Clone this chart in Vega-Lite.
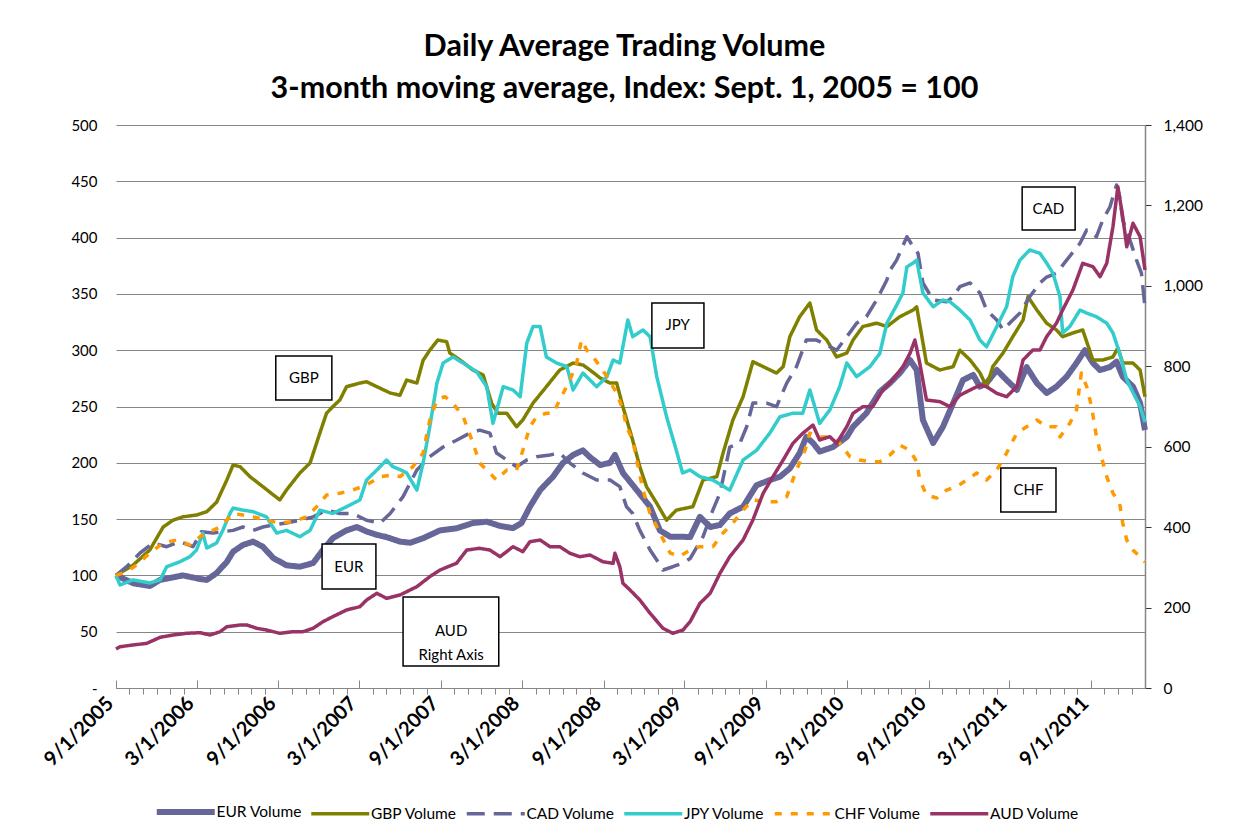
{
"$schema": "https://vega.github.io/schema/vega-lite/v6.json",
"width": 1029, "height": 563,
"autosize": {"type": "none"},
"padding": {"left": 116, "top": 125, "right": 93, "bottom": 151},
"background": "white",
"title": {"text": ["Daily Average Trading Volume", "3-month moving average, Index: Sept. 1, 2005 = 100"], "font": "Lato", "fontSize": 30.5, "fontWeight": "bold", "color": "#000", "lineHeight": 42, "offset": 14, "anchor": "middle", "dx": -6},
"config": {"view": {"stroke": null}},
"datasets": {
"left": [
{"s":"EUR","d":"2005-09-01","v":100},{"s":"EUR","d":"2005-10-10","v":93},{"s":"EUR","d":"2005-11-16","v":90.6},{"s":"EUR","d":"2005-12-09","v":96},{"s":"EUR","d":"2005-12-31","v":97.7},{"s":"EUR","d":"2006-01-29","v":100},{"s":"EUR","d":"2006-03-09","v":96.8},{"s":"EUR","d":"2006-03-24","v":96},{"s":"EUR","d":"2006-04-15","v":102},{"s":"EUR","d":"2006-05-08","v":112},{"s":"EUR","d":"2006-05-22","v":121},{"s":"EUR","d":"2006-06-13","v":127},{"s":"EUR","d":"2006-07-06","v":130},{"s":"EUR","d":"2006-07-28","v":125.5},{"s":"EUR","d":"2006-08-20","v":115.5},{"s":"EUR","d":"2006-09-19","v":109},{"s":"EUR","d":"2006-10-19","v":107.7},{"s":"EUR","d":"2006-11-18","v":111},{"s":"EUR","d":"2006-12-10","v":122.6},{"s":"EUR","d":"2007-01-01","v":133},{"s":"EUR","d":"2007-02-01","v":140},{"s":"EUR","d":"2007-02-24","v":143},{"s":"EUR","d":"2007-03-18","v":139},{"s":"EUR","d":"2007-04-10","v":136},{"s":"EUR","d":"2007-05-02","v":134},{"s":"EUR","d":"2007-06-01","v":130},{"s":"EUR","d":"2007-06-24","v":129},{"s":"EUR","d":"2007-07-23","v":133},{"s":"EUR","d":"2007-08-30","v":140},{"s":"EUR","d":"2007-10-06","v":141.8},{"s":"EUR","d":"2007-11-12","v":146.5},{"s":"EUR","d":"2007-12-13","v":147.7},{"s":"EUR","d":"2008-01-12","v":143.9},{"s":"EUR","d":"2008-02-10","v":142},{"s":"EUR","d":"2008-02-29","v":146.5},{"s":"EUR","d":"2008-03-19","v":161},{"s":"EUR","d":"2008-04-11","v":175.8},{"s":"EUR","d":"2008-05-10","v":187.7},{"s":"EUR","d":"2008-06-01","v":199.8},{"s":"EUR","d":"2008-06-24","v":207},{"s":"EUR","d":"2008-07-16","v":211},{"s":"EUR","d":"2008-08-01","v":205},{"s":"EUR","d":"2008-08-24","v":198},{"s":"EUR","d":"2008-09-15","v":200},{"s":"EUR","d":"2008-09-26","v":207},{"s":"EUR","d":"2008-10-14","v":191},{"s":"EUR","d":"2008-11-14","v":175.8},{"s":"EUR","d":"2008-12-14","v":161},{"s":"EUR","d":"2009-01-05","v":140},{"s":"EUR","d":"2009-01-28","v":134.4},{"s":"EUR","d":"2009-02-19","v":134.4},{"s":"EUR","d":"2009-03-14","v":134},{"s":"EUR","d":"2009-04-05","v":152},{"s":"EUR","d":"2009-04-28","v":143},{"s":"EUR","d":"2009-05-20","v":144.8},{"s":"EUR","d":"2009-06-11","v":155},{"s":"EUR","d":"2009-07-11","v":161},{"s":"EUR","d":"2009-08-10","v":180},{"s":"EUR","d":"2009-09-09","v":184.7},{"s":"EUR","d":"2009-10-02","v":187.7},{"s":"EUR","d":"2009-10-24","v":195},{"s":"EUR","d":"2009-11-15","v":208.6},{"s":"EUR","d":"2009-11-30","v":223},{"s":"EUR","d":"2009-12-15","v":217.6},{"s":"EUR","d":"2009-12-30","v":210},{"s":"EUR","d":"2010-01-29","v":214},{"s":"EUR","d":"2010-03-01","v":223},{"s":"EUR","d":"2010-03-15","v":232},{"s":"EUR","d":"2010-04-14","v":244},{"s":"EUR","d":"2010-05-14","v":263},{"s":"EUR","d":"2010-06-06","v":270.8},{"s":"EUR","d":"2010-06-28","v":279.7},{"s":"EUR","d":"2010-07-21","v":291.3},{"s":"EUR","d":"2010-08-05","v":282.4},{"s":"EUR","d":"2010-08-19","v":238},{"s":"EUR","d":"2010-09-11","v":217.6},{"s":"EUR","d":"2010-10-03","v":232},{"s":"EUR","d":"2010-10-26","v":253},{"s":"EUR","d":"2010-11-17","v":273.5},{"s":"EUR","d":"2010-12-10","v":278},{"s":"EUR","d":"2010-12-25","v":267.6},{"s":"EUR","d":"2011-01-09","v":270.8},{"s":"EUR","d":"2011-02-01","v":282.4},{"s":"EUR","d":"2011-02-23","v":273.5},{"s":"EUR","d":"2011-03-18","v":264.7},{"s":"EUR","d":"2011-04-09","v":285},{"s":"EUR","d":"2011-05-02","v":270.8},{"s":"EUR","d":"2011-05-24","v":262},{"s":"EUR","d":"2011-06-15","v":267.6},{"s":"EUR","d":"2011-07-08","v":276.5},{"s":"EUR","d":"2011-07-30","v":288.6},{"s":"EUR","d":"2011-08-18","v":300},{"s":"EUR","d":"2011-09-05","v":288.6},{"s":"EUR","d":"2011-09-21","v":282.4},{"s":"EUR","d":"2011-10-13","v":285},{"s":"EUR","d":"2011-10-28","v":289.8},{"s":"EUR","d":"2011-11-11","v":276.5},{"s":"EUR","d":"2011-12-04","v":267.6},{"s":"EUR","d":"2011-12-20","v":253},{"s":"EUR","d":"2011-12-31","v":229},
{"s":"GBP","d":"2005-09-01","v":100},{"s":"GBP","d":"2005-10-09","v":109},{"s":"GBP","d":"2005-11-16","v":122.6},{"s":"GBP","d":"2005-12-16","v":143},{"s":"GBP","d":"2006-01-07","v":149},{"s":"GBP","d":"2006-01-29","v":152},{"s":"GBP","d":"2006-03-01","v":153.6},{"s":"GBP","d":"2006-03-24","v":156.6},{"s":"GBP","d":"2006-04-15","v":165},{"s":"GBP","d":"2006-05-08","v":184.7},{"s":"GBP","d":"2006-05-22","v":198},{"s":"GBP","d":"2006-06-07","v":196.5},{"s":"GBP","d":"2006-06-29","v":187.7},{"s":"GBP","d":"2006-07-28","v":178.8},{"s":"GBP","d":"2006-09-04","v":167},{"s":"GBP","d":"2006-09-19","v":175.8},{"s":"GBP","d":"2006-10-19","v":190.9},{"s":"GBP","d":"2006-11-11","v":199.8},{"s":"GBP","d":"2006-12-03","v":226.4},{"s":"GBP","d":"2006-12-18","v":244},{"s":"GBP","d":"2007-01-01","v":249.8},{"s":"GBP","d":"2007-01-17","v":255.8},{"s":"GBP","d":"2007-02-01","v":267.6},{"s":"GBP","d":"2007-03-03","v":270.8},{"s":"GBP","d":"2007-03-18","v":272},{"s":"GBP","d":"2007-04-10","v":267.6},{"s":"GBP","d":"2007-05-10","v":262},{"s":"GBP","d":"2007-06-01","v":260},{"s":"GBP","d":"2007-06-16","v":273.5},{"s":"GBP","d":"2007-07-09","v":270.8},{"s":"GBP","d":"2007-07-23","v":291},{"s":"GBP","d":"2007-08-07","v":300},{"s":"GBP","d":"2007-08-25","v":309},{"s":"GBP","d":"2007-09-14","v":307.5},{"s":"GBP","d":"2007-09-21","v":297.5},{"s":"GBP","d":"2007-10-14","v":291.3},{"s":"GBP","d":"2007-11-12","v":282.4},{"s":"GBP","d":"2007-12-05","v":278},{"s":"GBP","d":"2007-12-24","v":253},{"s":"GBP","d":"2008-01-07","v":244},{"s":"GBP","d":"2008-01-27","v":244},{"s":"GBP","d":"2008-02-18","v":232},{"s":"GBP","d":"2008-03-03","v":238},{"s":"GBP","d":"2008-03-26","v":253},{"s":"GBP","d":"2008-04-25","v":267.6},{"s":"GBP","d":"2008-05-25","v":282.4},{"s":"GBP","d":"2008-06-24","v":288.6},{"s":"GBP","d":"2008-07-16","v":286.9},{"s":"GBP","d":"2008-08-01","v":282.4},{"s":"GBP","d":"2008-08-24","v":275.3},{"s":"GBP","d":"2008-09-15","v":270.8},{"s":"GBP","d":"2008-09-30","v":270.8},{"s":"GBP","d":"2008-10-14","v":249.8},{"s":"GBP","d":"2008-11-05","v":220},{"s":"GBP","d":"2008-11-21","v":196.5},{"s":"GBP","d":"2008-12-06","v":178.8},{"s":"GBP","d":"2008-12-29","v":164},{"s":"GBP","d":"2009-01-20","v":149},{"s":"GBP","d":"2009-02-11","v":158},{"s":"GBP","d":"2009-03-20","v":161},{"s":"GBP","d":"2009-04-12","v":184.7},{"s":"GBP","d":"2009-05-13","v":187.7},{"s":"GBP","d":"2009-05-27","v":208.7},{"s":"GBP","d":"2009-06-18","v":238},{"s":"GBP","d":"2009-07-11","v":258.7},{"s":"GBP","d":"2009-08-02","v":289.8},{"s":"GBP","d":"2009-08-25","v":285.4},{"s":"GBP","d":"2009-09-24","v":279.7},{"s":"GBP","d":"2009-10-09","v":285.4},{"s":"GBP","d":"2009-10-24","v":312},{"s":"GBP","d":"2009-11-15","v":329.7},{"s":"GBP","d":"2009-12-08","v":341.9},{"s":"GBP","d":"2009-12-23","v":318},{"s":"GBP","d":"2010-01-15","v":309},{"s":"GBP","d":"2010-02-06","v":294},{"s":"GBP","d":"2010-03-01","v":297.5},{"s":"GBP","d":"2010-03-15","v":309},{"s":"GBP","d":"2010-04-06","v":321},{"s":"GBP","d":"2010-05-07","v":324},{"s":"GBP","d":"2010-05-30","v":321},{"s":"GBP","d":"2010-06-28","v":329.7},{"s":"GBP","d":"2010-07-28","v":335.7},{"s":"GBP","d":"2010-08-05","v":338.6},{"s":"GBP","d":"2010-08-27","v":288.6},{"s":"GBP","d":"2010-09-26","v":282.4},{"s":"GBP","d":"2010-10-26","v":285.4},{"s":"GBP","d":"2010-11-10","v":300},{"s":"GBP","d":"2010-12-03","v":291.3},{"s":"GBP","d":"2010-12-25","v":280},{"s":"GBP","d":"2011-01-09","v":267.6},{"s":"GBP","d":"2011-01-23","v":285.4},{"s":"GBP","d":"2011-02-15","v":297.5},{"s":"GBP","d":"2011-03-09","v":312},{"s":"GBP","d":"2011-04-01","v":326.8},{"s":"GBP","d":"2011-04-12","v":347.5},{"s":"GBP","d":"2011-05-02","v":335.7},{"s":"GBP","d":"2011-05-24","v":324},{"s":"GBP","d":"2011-06-15","v":318},{"s":"GBP","d":"2011-06-29","v":312},{"s":"GBP","d":"2011-07-22","v":315.3},{"s":"GBP","d":"2011-08-13","v":318},{"s":"GBP","d":"2011-09-05","v":291.3},{"s":"GBP","d":"2011-09-27","v":291.3},{"s":"GBP","d":"2011-10-20","v":294},{"s":"GBP","d":"2011-10-31","v":302},{"s":"GBP","d":"2011-11-11","v":288.6},{"s":"GBP","d":"2011-12-04","v":288.6},{"s":"GBP","d":"2011-12-20","v":282.4},{"s":"GBP","d":"2011-12-31","v":258.7},
{"s":"CAD","d":"2005-09-01","v":100},{"s":"CAD","d":"2005-09-25","v":107.7},{"s":"CAD","d":"2005-10-25","v":119.9},{"s":"CAD","d":"2005-11-23","v":128.8},{"s":"CAD","d":"2005-12-24","v":125.5},{"s":"CAD","d":"2006-01-23","v":130},{"s":"CAD","d":"2006-02-21","v":125.5},{"s":"CAD","d":"2006-03-12","v":138.8},{"s":"CAD","d":"2006-04-07","v":137.6},{"s":"CAD","d":"2006-04-29","v":138.8},{"s":"CAD","d":"2006-05-22","v":140},{"s":"CAD","d":"2006-06-13","v":143},{"s":"CAD","d":"2006-07-06","v":140},{"s":"CAD","d":"2006-07-28","v":143},{"s":"CAD","d":"2006-08-20","v":144.8},{"s":"CAD","d":"2006-09-19","v":146.5},{"s":"CAD","d":"2006-10-19","v":149},{"s":"CAD","d":"2006-11-18","v":152},{"s":"CAD","d":"2006-12-18","v":158},{"s":"CAD","d":"2007-01-17","v":155},{"s":"CAD","d":"2007-02-15","v":155},{"s":"CAD","d":"2007-03-18","v":149},{"s":"CAD","d":"2007-04-17","v":146.5},{"s":"CAD","d":"2007-05-10","v":155},{"s":"CAD","d":"2007-06-08","v":170},{"s":"CAD","d":"2007-07-09","v":193.6},{"s":"CAD","d":"2007-08-07","v":205.4},{"s":"CAD","d":"2007-09-06","v":214},{"s":"CAD","d":"2007-10-06","v":220},{"s":"CAD","d":"2007-11-05","v":226.4},{"s":"CAD","d":"2007-11-27","v":229},{"s":"CAD","d":"2007-12-20","v":226.4},{"s":"CAD","d":"2008-01-04","v":208.7},{"s":"CAD","d":"2008-01-27","v":202.5},{"s":"CAD","d":"2008-02-18","v":196.5},{"s":"CAD","d":"2008-03-12","v":202.5},{"s":"CAD","d":"2008-04-03","v":205.4},{"s":"CAD","d":"2008-05-03","v":207},{"s":"CAD","d":"2008-05-25","v":208.7},{"s":"CAD","d":"2008-06-17","v":199.8},{"s":"CAD","d":"2008-07-16","v":190.9},{"s":"CAD","d":"2008-08-16","v":184.7},{"s":"CAD","d":"2008-09-15","v":184.7},{"s":"CAD","d":"2008-10-07","v":178.8},{"s":"CAD","d":"2008-10-22","v":161},{"s":"CAD","d":"2008-11-05","v":155},{"s":"CAD","d":"2008-11-21","v":140},{"s":"CAD","d":"2008-12-14","v":122.6},{"s":"CAD","d":"2008-12-29","v":113.7},{"s":"CAD","d":"2009-01-12","v":104.8},{"s":"CAD","d":"2009-02-03","v":107.7},{"s":"CAD","d":"2009-02-26","v":111},{"s":"CAD","d":"2009-03-14","v":115},{"s":"CAD","d":"2009-04-12","v":134.4},{"s":"CAD","d":"2009-05-04","v":158},{"s":"CAD","d":"2009-05-20","v":173},{"s":"CAD","d":"2009-06-11","v":214},{"s":"CAD","d":"2009-07-04","v":217.6},{"s":"CAD","d":"2009-07-19","v":232},{"s":"CAD","d":"2009-08-02","v":253},{"s":"CAD","d":"2009-09-02","v":253},{"s":"CAD","d":"2009-09-24","v":249.8},{"s":"CAD","d":"2009-10-17","v":270.8},{"s":"CAD","d":"2009-11-08","v":285.4},{"s":"CAD","d":"2009-11-30","v":309},{"s":"CAD","d":"2009-12-23","v":309},{"s":"CAD","d":"2010-01-15","v":304.6},{"s":"CAD","d":"2010-02-06","v":300},{"s":"CAD","d":"2010-03-01","v":312},{"s":"CAD","d":"2010-03-23","v":324},{"s":"CAD","d":"2010-04-14","v":329.7},{"s":"CAD","d":"2010-05-07","v":344.6},{"s":"CAD","d":"2010-05-30","v":362.3},{"s":"CAD","d":"2010-06-06","v":371},{"s":"CAD","d":"2010-06-21","v":380},{"s":"CAD","d":"2010-07-14","v":400.8},{"s":"CAD","d":"2010-07-28","v":392},{"s":"CAD","d":"2010-08-08","v":386},{"s":"CAD","d":"2010-08-19","v":359.7},{"s":"CAD","d":"2010-09-11","v":344.6},{"s":"CAD","d":"2010-10-11","v":343},{"s":"CAD","d":"2010-10-26","v":347.5},{"s":"CAD","d":"2010-11-10","v":356.4},{"s":"CAD","d":"2010-12-03","v":359.7},{"s":"CAD","d":"2010-12-25","v":350.8},{"s":"CAD","d":"2011-01-09","v":335.7},{"s":"CAD","d":"2011-02-01","v":326.8},{"s":"CAD","d":"2011-02-15","v":318},{"s":"CAD","d":"2011-03-09","v":326.8},{"s":"CAD","d":"2011-03-25","v":333},{"s":"CAD","d":"2011-04-16","v":347.5},{"s":"CAD","d":"2011-05-09","v":359.7},{"s":"CAD","d":"2011-05-24","v":365},{"s":"CAD","d":"2011-06-15","v":368.5},{"s":"CAD","d":"2011-07-08","v":380},{"s":"CAD","d":"2011-08-07","v":395},{"s":"CAD","d":"2011-08-22","v":406.7},{"s":"CAD","d":"2011-09-13","v":400.8},{"s":"CAD","d":"2011-09-27","v":415.6},{"s":"CAD","d":"2011-10-13","v":427},{"s":"CAD","d":"2011-10-28","v":446.7},{"s":"CAD","d":"2011-11-04","v":436.3},{"s":"CAD","d":"2011-11-11","v":415.6},{"s":"CAD","d":"2011-11-27","v":398},{"s":"CAD","d":"2011-12-12","v":380},{"s":"CAD","d":"2011-12-23","v":368.5},{"s":"CAD","d":"2011-12-31","v":338},
{"s":"JPY","d":"2005-09-01","v":100},{"s":"JPY","d":"2005-09-10","v":91.5},{"s":"JPY","d":"2005-10-09","v":96},{"s":"JPY","d":"2005-11-16","v":93.3},{"s":"JPY","d":"2005-12-09","v":96},{"s":"JPY","d":"2005-12-24","v":107.7},{"s":"JPY","d":"2006-01-23","v":112.2},{"s":"JPY","d":"2006-02-14","v":116.6},{"s":"JPY","d":"2006-03-01","v":122.6},{"s":"JPY","d":"2006-03-15","v":137.6},{"s":"JPY","d":"2006-03-24","v":124.3},{"s":"JPY","d":"2006-04-15","v":128.8},{"s":"JPY","d":"2006-04-29","v":140},{"s":"JPY","d":"2006-05-15","v":155},{"s":"JPY","d":"2006-05-22","v":159.8},{"s":"JPY","d":"2006-06-13","v":158},{"s":"JPY","d":"2006-07-06","v":156.6},{"s":"JPY","d":"2006-08-05","v":152},{"s":"JPY","d":"2006-08-28","v":137.6},{"s":"JPY","d":"2006-09-19","v":140},{"s":"JPY","d":"2006-10-19","v":134.4},{"s":"JPY","d":"2006-11-11","v":140},{"s":"JPY","d":"2006-12-03","v":158},{"s":"JPY","d":"2007-01-01","v":155},{"s":"JPY","d":"2007-02-01","v":161},{"s":"JPY","d":"2007-03-03","v":167},{"s":"JPY","d":"2007-03-18","v":184.7},{"s":"JPY","d":"2007-04-10","v":193.6},{"s":"JPY","d":"2007-05-02","v":202.5},{"s":"JPY","d":"2007-05-16","v":196.5},{"s":"JPY","d":"2007-06-01","v":194},{"s":"JPY","d":"2007-06-16","v":191},{"s":"JPY","d":"2007-07-09","v":175.8},{"s":"JPY","d":"2007-07-23","v":199.8},{"s":"JPY","d":"2007-08-07","v":232},{"s":"JPY","d":"2007-08-23","v":270.8},{"s":"JPY","d":"2007-09-06","v":288.6},{"s":"JPY","d":"2007-09-28","v":294},{"s":"JPY","d":"2007-10-21","v":288.6},{"s":"JPY","d":"2007-11-20","v":281},{"s":"JPY","d":"2007-12-13","v":267.6},{"s":"JPY","d":"2007-12-27","v":235},{"s":"JPY","d":"2008-01-19","v":267.6},{"s":"JPY","d":"2008-02-10","v":264.7},{"s":"JPY","d":"2008-02-26","v":258.7},{"s":"JPY","d":"2008-03-12","v":306.4},{"s":"JPY","d":"2008-03-26","v":321},{"s":"JPY","d":"2008-04-11","v":321},{"s":"JPY","d":"2008-04-25","v":294},{"s":"JPY","d":"2008-05-18","v":288.6},{"s":"JPY","d":"2008-06-10","v":285.4},{"s":"JPY","d":"2008-06-24","v":264.7},{"s":"JPY","d":"2008-07-16","v":279.7},{"s":"JPY","d":"2008-08-16","v":267.6},{"s":"JPY","d":"2008-09-08","v":276.5},{"s":"JPY","d":"2008-09-22","v":291.3},{"s":"JPY","d":"2008-10-07","v":288.6},{"s":"JPY","d":"2008-10-25","v":326.8},{"s":"JPY","d":"2008-11-05","v":312},{"s":"JPY","d":"2008-11-28","v":318},{"s":"JPY","d":"2008-12-14","v":312},{"s":"JPY","d":"2008-12-29","v":276.5},{"s":"JPY","d":"2009-01-20","v":241},{"s":"JPY","d":"2009-02-11","v":211},{"s":"JPY","d":"2009-02-25","v":191},{"s":"JPY","d":"2009-03-14","v":193.6},{"s":"JPY","d":"2009-04-05","v":187.7},{"s":"JPY","d":"2009-05-04","v":184.7},{"s":"JPY","d":"2009-06-11","v":175.8},{"s":"JPY","d":"2009-07-11","v":202.5},{"s":"JPY","d":"2009-08-10","v":211},{"s":"JPY","d":"2009-09-09","v":226.4},{"s":"JPY","d":"2009-10-02","v":241},{"s":"JPY","d":"2009-10-31","v":244},{"s":"JPY","d":"2009-11-22","v":244},{"s":"JPY","d":"2009-12-08","v":264.7},{"s":"JPY","d":"2009-12-30","v":235},{"s":"JPY","d":"2010-01-22","v":247},{"s":"JPY","d":"2010-02-13","v":267.6},{"s":"JPY","d":"2010-03-01","v":288.6},{"s":"JPY","d":"2010-03-23","v":276.5},{"s":"JPY","d":"2010-04-22","v":285.4},{"s":"JPY","d":"2010-05-14","v":297},{"s":"JPY","d":"2010-05-30","v":324},{"s":"JPY","d":"2010-06-21","v":340},{"s":"JPY","d":"2010-07-05","v":350.8},{"s":"JPY","d":"2010-07-14","v":374},{"s":"JPY","d":"2010-07-28","v":377.4},{"s":"JPY","d":"2010-08-05","v":380},{"s":"JPY","d":"2010-08-19","v":350.8},{"s":"JPY","d":"2010-09-11","v":338.6},{"s":"JPY","d":"2010-10-03","v":344.6},{"s":"JPY","d":"2010-10-19","v":343},{"s":"JPY","d":"2010-11-10","v":335.7},{"s":"JPY","d":"2010-12-03","v":326.8},{"s":"JPY","d":"2010-12-25","v":309},{"s":"JPY","d":"2011-01-09","v":303},{"s":"JPY","d":"2011-02-01","v":321},{"s":"JPY","d":"2011-02-23","v":338.6},{"s":"JPY","d":"2011-03-09","v":365.3},{"s":"JPY","d":"2011-03-25","v":380},{"s":"JPY","d":"2011-04-16","v":389},{"s":"JPY","d":"2011-05-09","v":386},{"s":"JPY","d":"2011-05-24","v":377.4},{"s":"JPY","d":"2011-06-07","v":368.5},{"s":"JPY","d":"2011-06-23","v":347.5},{"s":"JPY","d":"2011-06-29","v":315.3},{"s":"JPY","d":"2011-07-15","v":321},{"s":"JPY","d":"2011-08-07","v":335.7},{"s":"JPY","d":"2011-08-22","v":333},{"s":"JPY","d":"2011-09-13","v":329.7},{"s":"JPY","d":"2011-10-06","v":324},{"s":"JPY","d":"2011-10-20","v":315.3},{"s":"JPY","d":"2011-11-04","v":297.5},{"s":"JPY","d":"2011-11-20","v":273.5},{"s":"JPY","d":"2011-12-20","v":250},{"s":"JPY","d":"2011-12-31","v":236},
{"s":"CHF","d":"2005-09-01","v":100},{"s":"CHF","d":"2005-09-25","v":103.3},{"s":"CHF","d":"2005-10-17","v":109.2},{"s":"CHF","d":"2005-11-16","v":119.9},{"s":"CHF","d":"2005-12-16","v":128.8},{"s":"CHF","d":"2006-01-15","v":131.4},{"s":"CHF","d":"2006-02-14","v":127},{"s":"CHF","d":"2006-03-09","v":134.4},{"s":"CHF","d":"2006-03-31","v":138.8},{"s":"CHF","d":"2006-04-23","v":143},{"s":"CHF","d":"2006-05-22","v":155},{"s":"CHF","d":"2006-06-13","v":153.6},{"s":"CHF","d":"2006-07-06","v":152},{"s":"CHF","d":"2006-08-05","v":149},{"s":"CHF","d":"2006-09-04","v":146.5},{"s":"CHF","d":"2006-10-04","v":147.7},{"s":"CHF","d":"2006-11-03","v":152},{"s":"CHF","d":"2006-11-26","v":161},{"s":"CHF","d":"2006-12-18","v":171.4},{"s":"CHF","d":"2007-01-17","v":173},{"s":"CHF","d":"2007-02-15","v":175.8},{"s":"CHF","d":"2007-03-18","v":180.3},{"s":"CHF","d":"2007-04-17","v":187.7},{"s":"CHF","d":"2007-05-16","v":189.2},{"s":"CHF","d":"2007-06-01","v":187.7},{"s":"CHF","d":"2007-06-30","v":196.5},{"s":"CHF","d":"2007-07-23","v":208.7},{"s":"CHF","d":"2007-08-07","v":238},{"s":"CHF","d":"2007-08-23","v":255.8},{"s":"CHF","d":"2007-09-10","v":258.7},{"s":"CHF","d":"2007-09-28","v":253},{"s":"CHF","d":"2007-10-21","v":241},{"s":"CHF","d":"2007-11-12","v":217.6},{"s":"CHF","d":"2007-11-27","v":199.8},{"s":"CHF","d":"2007-12-20","v":190.9},{"s":"CHF","d":"2008-01-04","v":184.7},{"s":"CHF","d":"2008-01-27","v":193.6},{"s":"CHF","d":"2008-02-18","v":193.6},{"s":"CHF","d":"2008-03-03","v":211},{"s":"CHF","d":"2008-03-19","v":232},{"s":"CHF","d":"2008-04-03","v":241},{"s":"CHF","d":"2008-04-25","v":244},{"s":"CHF","d":"2008-05-10","v":244},{"s":"CHF","d":"2008-05-25","v":255.8},{"s":"CHF","d":"2008-06-17","v":273.5},{"s":"CHF","d":"2008-07-02","v":288.6},{"s":"CHF","d":"2008-07-13","v":309},{"s":"CHF","d":"2008-07-25","v":300},{"s":"CHF","d":"2008-08-08","v":294},{"s":"CHF","d":"2008-08-24","v":285.4},{"s":"CHF","d":"2008-09-08","v":276.5},{"s":"CHF","d":"2008-09-30","v":262},{"s":"CHF","d":"2008-10-14","v":247},{"s":"CHF","d":"2008-10-22","v":232},{"s":"CHF","d":"2008-11-05","v":220},{"s":"CHF","d":"2008-11-14","v":202.5},{"s":"CHF","d":"2008-11-28","v":175.8},{"s":"CHF","d":"2008-12-14","v":155},{"s":"CHF","d":"2009-01-05","v":137.6},{"s":"CHF","d":"2009-01-28","v":119.9},{"s":"CHF","d":"2009-02-19","v":117},{"s":"CHF","d":"2009-03-14","v":122.6},{"s":"CHF","d":"2009-04-05","v":125.5},{"s":"CHF","d":"2009-05-04","v":125.5},{"s":"CHF","d":"2009-05-27","v":137.6},{"s":"CHF","d":"2009-06-18","v":146.5},{"s":"CHF","d":"2009-07-11","v":158},{"s":"CHF","d":"2009-08-02","v":167},{"s":"CHF","d":"2009-09-02","v":165.5},{"s":"CHF","d":"2009-09-24","v":165.5},{"s":"CHF","d":"2009-10-17","v":170},{"s":"CHF","d":"2009-11-08","v":193.6},{"s":"CHF","d":"2009-11-27","v":211},{"s":"CHF","d":"2009-12-08","v":226.4},{"s":"CHF","d":"2009-12-30","v":223},{"s":"CHF","d":"2010-01-22","v":223},{"s":"CHF","d":"2010-02-13","v":217.6},{"s":"CHF","d":"2010-03-08","v":205.4},{"s":"CHF","d":"2010-03-30","v":202.5},{"s":"CHF","d":"2010-04-22","v":201},{"s":"CHF","d":"2010-05-14","v":201},{"s":"CHF","d":"2010-06-06","v":207},{"s":"CHF","d":"2010-06-28","v":215.8},{"s":"CHF","d":"2010-07-21","v":211},{"s":"CHF","d":"2010-08-05","v":201},{"s":"CHF","d":"2010-08-12","v":184.7},{"s":"CHF","d":"2010-08-27","v":171.4},{"s":"CHF","d":"2010-09-19","v":168.7},{"s":"CHF","d":"2010-10-11","v":175.8},{"s":"CHF","d":"2010-11-03","v":178.8},{"s":"CHF","d":"2010-11-25","v":184.7},{"s":"CHF","d":"2010-12-18","v":190.9},{"s":"CHF","d":"2011-01-09","v":184.7},{"s":"CHF","d":"2011-02-01","v":193.6},{"s":"CHF","d":"2011-02-23","v":208.7},{"s":"CHF","d":"2011-03-18","v":226.4},{"s":"CHF","d":"2011-04-09","v":232},{"s":"CHF","d":"2011-05-02","v":238},{"s":"CHF","d":"2011-05-24","v":232},{"s":"CHF","d":"2011-06-15","v":232},{"s":"CHF","d":"2011-06-23","v":223},{"s":"CHF","d":"2011-07-15","v":235},{"s":"CHF","d":"2011-07-30","v":247},{"s":"CHF","d":"2011-08-10","v":279.7},{"s":"CHF","d":"2011-08-22","v":267.6},{"s":"CHF","d":"2011-09-02","v":249.8},{"s":"CHF","d":"2011-09-13","v":223},{"s":"CHF","d":"2011-09-24","v":205.4},{"s":"CHF","d":"2011-10-06","v":187.7},{"s":"CHF","d":"2011-10-20","v":173},{"s":"CHF","d":"2011-11-04","v":164},{"s":"CHF","d":"2011-11-11","v":146.5},{"s":"CHF","d":"2011-11-20","v":131.4},{"s":"CHF","d":"2011-12-04","v":122.6},{"s":"CHF","d":"2011-12-31","v":112}
],
"aud": [
{"s":"AUD","d":"2005-09-01","v":97},{"s":"AUD","d":"2005-09-10","v":102.7},{"s":"AUD","d":"2005-10-09","v":106.9},{"s":"AUD","d":"2005-11-09","v":111},{"s":"AUD","d":"2005-12-09","v":126},{"s":"AUD","d":"2006-01-07","v":131.8},{"s":"AUD","d":"2006-02-06","v":136},{"s":"AUD","d":"2006-03-09","v":137.5},{"s":"AUD","d":"2006-03-31","v":131.8},{"s":"AUD","d":"2006-04-23","v":140},{"s":"AUD","d":"2006-05-08","v":152.4},{"s":"AUD","d":"2006-06-07","v":156.7},{"s":"AUD","d":"2006-06-22","v":156.7},{"s":"AUD","d":"2006-07-14","v":148.5},{"s":"AUD","d":"2006-08-05","v":144.2},{"s":"AUD","d":"2006-09-04","v":136},{"s":"AUD","d":"2006-10-04","v":140},{"s":"AUD","d":"2006-10-26","v":140},{"s":"AUD","d":"2006-11-18","v":148.5},{"s":"AUD","d":"2006-12-10","v":164.9},{"s":"AUD","d":"2007-01-01","v":177.3},{"s":"AUD","d":"2007-02-01","v":194},{"s":"AUD","d":"2007-03-03","v":202.2},{"s":"AUD","d":"2007-03-18","v":218.8},{"s":"AUD","d":"2007-04-10","v":235.5},{"s":"AUD","d":"2007-05-02","v":223},{"s":"AUD","d":"2007-06-01","v":231.3},{"s":"AUD","d":"2007-07-09","v":252},{"s":"AUD","d":"2007-08-07","v":276.8},{"s":"AUD","d":"2007-08-30","v":293.4},{"s":"AUD","d":"2007-10-06","v":310},{"s":"AUD","d":"2007-10-29","v":343},{"s":"AUD","d":"2007-11-27","v":347.4},{"s":"AUD","d":"2007-12-20","v":343},{"s":"AUD","d":"2008-01-12","v":326.5},{"s":"AUD","d":"2008-02-10","v":351.4},{"s":"AUD","d":"2008-03-03","v":339},{"s":"AUD","d":"2008-03-19","v":363.8},{"s":"AUD","d":"2008-04-11","v":368},{"s":"AUD","d":"2008-05-03","v":351.4},{"s":"AUD","d":"2008-05-25","v":351.4},{"s":"AUD","d":"2008-06-17","v":335},{"s":"AUD","d":"2008-07-09","v":326.5},{"s":"AUD","d":"2008-08-01","v":330.7},{"s":"AUD","d":"2008-08-30","v":314},{"s":"AUD","d":"2008-09-22","v":310},{"s":"AUD","d":"2008-09-26","v":335},{"s":"AUD","d":"2008-10-07","v":301.6},{"s":"AUD","d":"2008-10-14","v":260.4},{"s":"AUD","d":"2008-10-30","v":243.7},{"s":"AUD","d":"2008-11-21","v":218.8},{"s":"AUD","d":"2008-12-14","v":185.8},{"s":"AUD","d":"2009-01-12","v":148.5},{"s":"AUD","d":"2009-02-03","v":136},{"s":"AUD","d":"2009-02-26","v":144.2},{"s":"AUD","d":"2009-03-14","v":165},{"s":"AUD","d":"2009-04-05","v":210.6},{"s":"AUD","d":"2009-04-28","v":235.5},{"s":"AUD","d":"2009-05-20","v":285.2},{"s":"AUD","d":"2009-06-11","v":326.5},{"s":"AUD","d":"2009-07-11","v":368},{"s":"AUD","d":"2009-08-02","v":417.8},{"s":"AUD","d":"2009-08-25","v":484.2},{"s":"AUD","d":"2009-09-16","v":525.4},{"s":"AUD","d":"2009-10-09","v":567},{"s":"AUD","d":"2009-10-31","v":608.5},{"s":"AUD","d":"2009-11-22","v":633.3},{"s":"AUD","d":"2009-12-15","v":654},{"s":"AUD","d":"2009-12-30","v":616.7},{"s":"AUD","d":"2010-01-22","v":625},{"s":"AUD","d":"2010-02-06","v":608.5},{"s":"AUD","d":"2010-03-01","v":649.8},{"s":"AUD","d":"2010-03-15","v":683},{"s":"AUD","d":"2010-04-06","v":699.5},{"s":"AUD","d":"2010-04-28","v":699.5},{"s":"AUD","d":"2010-05-21","v":741},{"s":"AUD","d":"2010-06-12","v":766},{"s":"AUD","d":"2010-07-05","v":799},{"s":"AUD","d":"2010-07-21","v":832.3},{"s":"AUD","d":"2010-08-01","v":865.4},{"s":"AUD","d":"2010-08-12","v":807.4},{"s":"AUD","d":"2010-08-27","v":716.2},{"s":"AUD","d":"2010-09-26","v":712},{"s":"AUD","d":"2010-10-19","v":699.5},{"s":"AUD","d":"2010-11-10","v":728},{"s":"AUD","d":"2010-12-03","v":741},{"s":"AUD","d":"2010-12-25","v":753},{"s":"AUD","d":"2011-01-09","v":749.3},{"s":"AUD","d":"2011-02-01","v":732.8},{"s":"AUD","d":"2011-02-23","v":724.4},{"s":"AUD","d":"2011-03-18","v":749.3},{"s":"AUD","d":"2011-04-01","v":815.6},{"s":"AUD","d":"2011-04-23","v":840.5},{"s":"AUD","d":"2011-05-09","v":840.5},{"s":"AUD","d":"2011-05-24","v":873.6},{"s":"AUD","d":"2011-06-15","v":907},{"s":"AUD","d":"2011-06-29","v":940},{"s":"AUD","d":"2011-07-22","v":989.7},{"s":"AUD","d":"2011-08-13","v":1056},{"s":"AUD","d":"2011-09-05","v":1047.7},{"s":"AUD","d":"2011-09-21","v":1022.8},{"s":"AUD","d":"2011-10-06","v":1056},{"s":"AUD","d":"2011-10-20","v":1147},{"s":"AUD","d":"2011-10-31","v":1246.6},{"s":"AUD","d":"2011-11-11","v":1172},{"s":"AUD","d":"2011-11-20","v":1097.4},{"s":"AUD","d":"2011-12-04","v":1155.6},{"s":"AUD","d":"2011-12-20","v":1122.3},{"s":"AUD","d":"2011-12-31","v":1039.4}
],
"notes": [
{"t":"GBP","d":"2006-10-28","v":275.3,"d1":"2006-08-26","d2":"2006-12-30","v1":294.8,"v2":255.8},
{"t":"EUR","d":"2007-02-06","v":107.9,"d1":"2006-12-08","d2":"2007-04-08","v1":127.9,"v2":87.9},
{"t":"AUD|Right Axis","d":"2007-09-24","v":50.7,"d1":"2007-06-08","d2":"2008-01-09","v1":80.8,"v2":19.5},
{"t":"JPY","d":"2009-02-14","v":322,"d1":"2008-12-18","d2":"2009-04-14","v1":341.9,"v2":301.9},
{"t":"CAD","d":"2011-05-28","v":425.8,"d1":"2011-03-30","d2":"2011-07-27","v1":444.9,"v2":406.7},
{"t":"CHF","d":"2011-04-13","v":175.8,"d1":"2011-02-10","d2":"2011-06-14","v1":195.4,"v2":156.3}
]
},
"layer": [
{
"data": {"name": "left"},
"mark": {"type": "line", "strokeJoin": "round"},
"encoding": {
"x": {"field": "d", "type": "temporal", "title": null,
"scale": {"type": "utc", "domain": [{"year": 2005, "month": 9, "date": 1, "utc": true}, {"year": 2011, "month": 12, "date": 31, "utc": true}], "nice": false},
"axis": {"title": null, "tickCount": {"interval": "month", "step": 1}, "labelExpr": "(utcmonth(datum.value) == 2 || utcmonth(datum.value) == 8) ? utcFormat(datum.value, '%-m/%-d/%Y') : ''", "labelAngle": -45, "labelAlign": "right", "labelBaseline": "middle", "labelFont": "Lato", "labelFontSize": 20, "labelFontWeight": "bold", "labelColor": "#000", "labelOverlap": false, "labelFlush": false, "labelBound": false, "labelOffset": -6, "domainColor": "#868686", "domainWidth": 1, "tickColor": "#868686", "tickWidth": 1, "tickSize": {"condition": {"test": "utcmonth(datum.value) == 2 || utcmonth(datum.value) == 8", "value": -8}, "value": 6}, "labelPadding": 20, "grid": false}},
"y": {"field": "v", "type": "quantitative", "scale": {"domain": [0, 500], "nice": false},
"axis": {"title": null, "values": [0, 50, 100, 150, 200, 250, 300, 350, 400, 450, 500], "labelExpr": "datum.value == 0 ? '-' : datum.label", "domain": false, "ticks": false, "grid": true, "gridColor": "#868686", "gridWidth": 1, "labelFont": "Lato", "labelFontSize": 15, "labelColor": "#000", "labelPadding": 19}},
"color": {"field": "s", "type": "nominal", "scale": {"domain": ["EUR", "GBP", "CAD", "JPY", "CHF", "AUD"], "range": ["#666699", "#808000", "#666699", "#33CCCC", "#FF9900", "#993366"]},
"legend": {"title": null, "orient": "none", "legendX": 62, "legendY": 679, "direction": "horizontal", "columns": 6, "symbolType": "stroke", "symbolSize": 3364, "labelFont": "Lato", "labelFontSize": 15.5, "labelColor": "#000", "labelExpr": "datum.label + ' Volume'", "columnPadding": 1.5, "labelOffset": 23, "encode": {"symbols": {"update": {"strokeWidth": {"signal": "datum.value === 'EUR' ? 6 : 3.5"}}}}}},
"strokeDash": {"field": "s", "type": "nominal", "scale": {"domain": ["EUR", "GBP", "CAD", "JPY", "CHF", "AUD"], "range": [[1, 0], [1, 0], [18, 9], [1, 0], [7, 9], [1, 0]]},
"legend": {"title": null, "orient": "none", "legendX": 62, "legendY": 679, "direction": "horizontal", "columns": 6, "symbolType": "stroke", "symbolSize": 3364, "labelFont": "Lato", "labelFontSize": 15.5, "labelColor": "#000", "labelExpr": "datum.label + ' Volume'", "columnPadding": 1.5, "labelOffset": 23, "encode": {"symbols": {"update": {"strokeWidth": {"signal": "datum.value === 'EUR' ? 6 : 3.5"}}}}}},
"strokeWidth": {"condition": {"test": "datum.s == 'EUR'", "value": 6}, "value": 3.5}
}
},
{
"data": {"name": "aud"},
"mark": {"type": "line", "strokeJoin": "round", "strokeWidth": 3.5},
"encoding": {
"x": {"field": "d", "type": "temporal", "title": null},
"y": {"field": "v", "type": "quantitative", "scale": {"domain": [0, 1400], "nice": false},
"axis": {"orient": "right", "title": null, "values": [0, 200, 400, 600, 800, 1000, 1200, 1400], "format": ",.0f", "grid": false, "domain": true, "domainColor": "#868686", "domainWidth": 1.5, "ticks": true, "tickColor": "#333333", "tickSize": 6, "labelFont": "Lato", "labelFontSize": 15.5, "labelColor": "#000", "labelPadding": 12}},
"color": {"field": "s", "type": "nominal"},
"strokeDash": {"field": "s", "type": "nominal"}
}
},
{
"data": {"name": "notes"},
"mark": {"type": "rect", "fill": "white", "stroke": "#000", "strokeWidth": 1.5},
"encoding": {
"x": {"field": "d1", "type": "temporal", "title": null},
"x2": {"field": "d2"},
"y": {"field": "v1", "type": "quantitative", "scale": {"domain": [0, 500], "nice": false}, "axis": null},
"y2": {"field": "v2"}
}
},
{
"data": {"name": "notes"},
"mark": {"type": "text", "font": "Lato", "fontSize": 15, "color": "#000", "lineBreak": "|", "lineHeight": 24, "align": "center", "baseline": "middle"},
"encoding": {
"x": {"field": "d", "type": "temporal", "title": null},
"y": {"field": "v", "type": "quantitative", "scale": {"domain": [0, 500], "nice": false}, "axis": null},
"text": {"field": "t"}
}
}
],
"resolve": {"scale": {"y": "independent"}}
}
